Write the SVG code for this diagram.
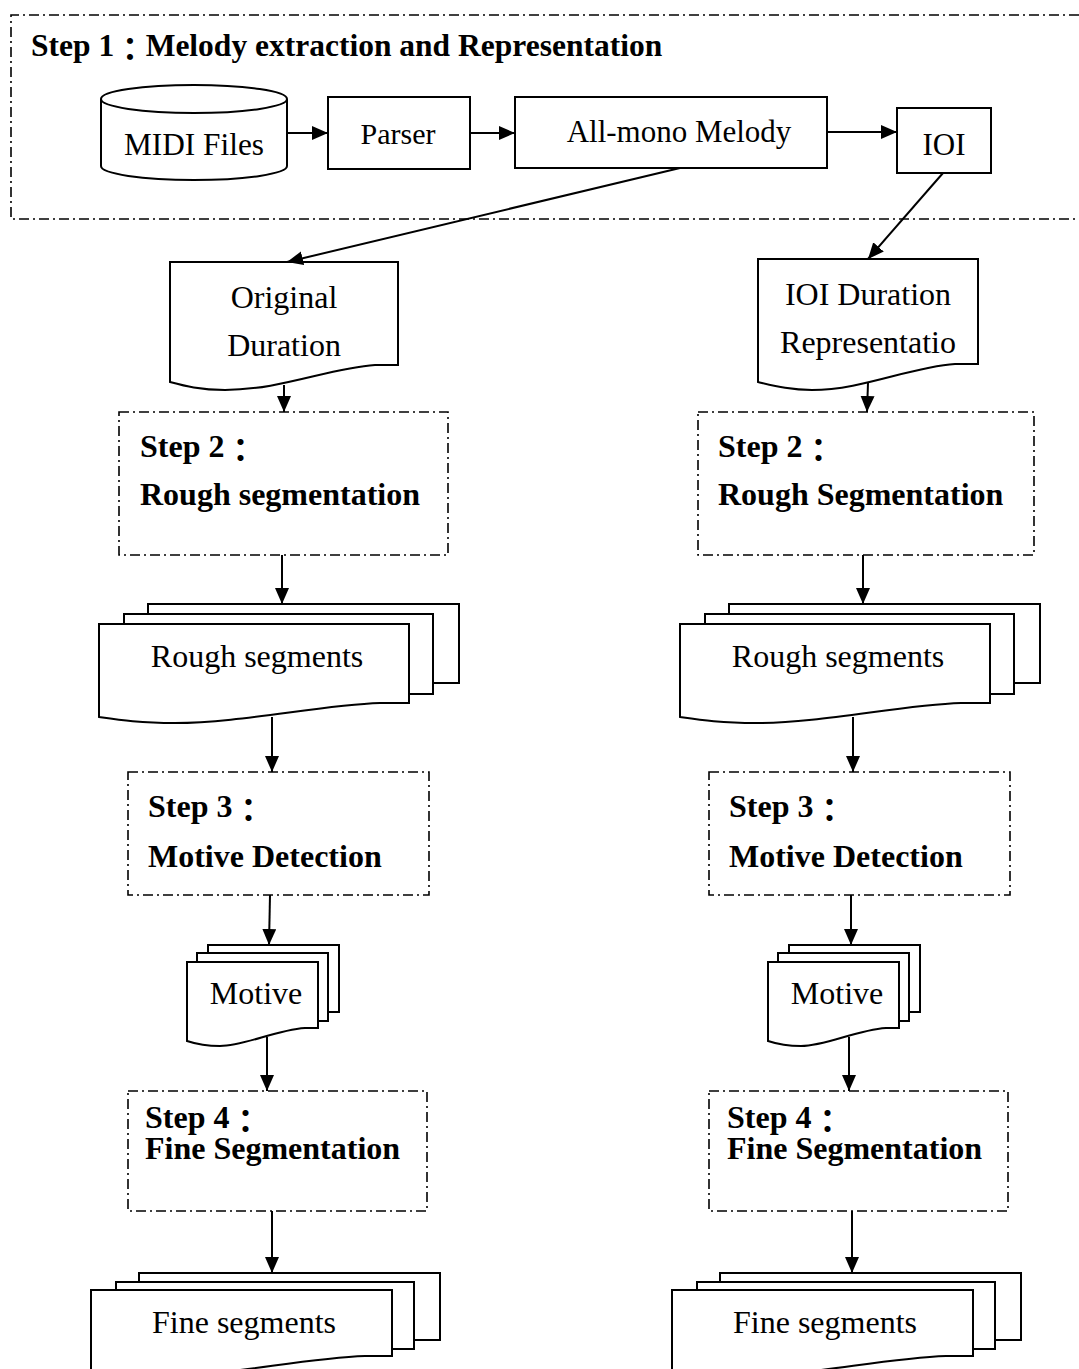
<svg xmlns="http://www.w3.org/2000/svg" width="1079" height="1369" viewBox="0 0 1079 1369">
<style>
  .sh{fill:#fff;stroke:#000;stroke-width:2}
  .dd{fill:none;stroke:#000;stroke-width:1.6;stroke-dasharray:10 4 2 4}
  .cn{fill:none;stroke:#000;stroke-width:2}
  .t{font-family:"Liberation Serif","Noto Sans CJK TC",serif;font-size:32px;fill:#000}
  .b{font-family:"Liberation Serif","Noto Sans CJK TC",serif;font-size:32px;font-weight:bold;fill:#000}
  .m{text-anchor:middle}
</style>
<defs>
  <marker id="ah" markerUnits="userSpaceOnUse" markerWidth="17" markerHeight="15" refX="16" refY="7" orient="auto">
    <path d="M0,0 L16,7 L0,14 Z" fill="#000"/>
  </marker>
</defs>
<rect width="1079" height="1369" fill="#fff"/>

<g id="step1">
  <path class="dd" d="M1079,15 H11 V219 H1079"/>
  <text class="b" x="31" y="56" style="font-size:31.5px">Step 1<tspan dy="5">：</tspan><tspan dy="-5">Melody extraction and Representation</tspan></text>
</g>

<g id="midi">
  <path class="sh" d="M101,99 V166 A93,14 0 0 0 287,166 V99"/>
  <ellipse class="sh" cx="194" cy="99" rx="93" ry="14"/>
  <text class="t m" x="194" y="155" style="font-size:31.3px">MIDI Files</text>
</g>
<g id="parser">
  <rect class="sh" x="328" y="97" width="142" height="72"/>
  <text class="t m" x="398" y="144" style="font-size:30px">Parser</text>
</g>
<g id="allmono">
  <rect class="sh" x="515" y="97" width="312" height="71"/>
  <text class="t m" x="679" y="142" style="font-size:31px">All-mono Melody</text>
</g>
<g id="ioi">
  <rect class="sh" x="897" y="108" width="94" height="65"/>
  <text class="t m" x="944" y="155" style="font-size:31px">IOI</text>
</g>

<g id="origdur">
  <path class="sh" d="M170,262 H398 V365 H375 C330,368 280,390 225,390 C200,390 185,386 170,382 Z"/>
  <text class="t m" x="284" y="308">Original</text>
  <text class="t m" x="284" y="356">Duration</text>
</g>
<g id="ioidur">
  <path class="sh" d="M758,259 H978 V364 H955 C910,367 862,390 812,390 C790,390 775,386 758,382 Z"/>
  <text class="t m" x="868" y="305">IOI Duration</text>
  <text class="t m" x="868" y="353">Representatio</text>
</g>

<g id="step2l">
  <rect class="dd" x="119" y="412" width="329" height="143"/>
  <text class="b" x="140" y="457">Step 2<tspan dy="5">：</tspan></text>
  <text class="b" x="140" y="505">Rough segmentation</text>
</g>
<g id="step2r">
  <rect class="dd" x="698" y="412" width="336" height="143"/>
  <text class="b" x="718" y="457">Step 2<tspan dy="5">：</tspan></text>
  <text class="b" x="718" y="505">Rough Segmentation</text>
</g>

<g id="roughl">
  <rect class="sh" x="148" y="604" width="311" height="79"/>
  <rect class="sh" x="124" y="614" width="309" height="80"/>
  <path class="sh" d="M99,624 H409 V703 H380 C320,705 240,723 175,723 C140,723 120,720 99,717 Z"/>
  <text class="t m" x="257" y="667">Rough segments</text>
</g>
<g id="roughr" transform="translate(581,0)">
  <rect class="sh" x="148" y="604" width="311" height="79"/>
  <rect class="sh" x="124" y="614" width="309" height="80"/>
  <path class="sh" d="M99,624 H409 V703 H380 C320,705 240,723 175,723 C140,723 120,720 99,717 Z"/>
  <text class="t m" x="257" y="667">Rough segments</text>
</g>

<g id="step3l">
  <rect class="dd" x="128" y="772" width="301" height="123"/>
  <text class="b" x="148" y="817">Step 3<tspan dy="5">：</tspan></text>
  <text class="b" x="148" y="867">Motive Detection</text>
</g>
<g id="step3r">
  <rect class="dd" x="709" y="772" width="301" height="123"/>
  <text class="b" x="729" y="817">Step 3<tspan dy="5">：</tspan></text>
  <text class="b" x="729" y="867">Motive Detection</text>
</g>

<g id="motivel">
  <rect class="sh" x="208" y="945" width="131" height="67"/>
  <rect class="sh" x="197" y="953" width="131" height="68"/>
  <path class="sh" d="M187,962 H318 V1028 H305 C275,1030 245,1046 220,1046 C205,1046 196,1044 187,1041 Z"/>
  <text class="t m" x="256" y="1004">Motive</text>
</g>
<g id="motiver" transform="translate(581,0)">
  <rect class="sh" x="208" y="945" width="131" height="67"/>
  <rect class="sh" x="197" y="953" width="131" height="68"/>
  <path class="sh" d="M187,962 H318 V1028 H305 C275,1030 245,1046 220,1046 C205,1046 196,1044 187,1041 Z"/>
  <text class="t m" x="256" y="1004">Motive</text>
</g>

<g id="step4l">
  <rect class="dd" x="128" y="1091" width="299" height="120"/>
  <text class="b" x="145" y="1128">Step 4<tspan dy="5">：</tspan></text>
  <text class="b" x="145" y="1159">Fine Segmentation</text>
</g>
<g id="step4r">
  <rect class="dd" x="709" y="1091" width="299" height="120"/>
  <text class="b" x="727" y="1128">Step 4<tspan dy="5">：</tspan></text>
  <text class="b" x="727" y="1159">Fine Segmentation</text>
</g>

<g id="finel">
  <rect class="sh" x="139" y="1273" width="301" height="67"/>
  <rect class="sh" x="116" y="1282" width="298" height="67"/>
  <path class="sh" d="M91,1290 H392 V1356 H365 C305,1358 225,1376 165,1376 C130,1376 110,1373 91,1370 Z"/>
  <text class="t m" x="244" y="1333">Fine segments</text>
</g>
<g id="finer" transform="translate(581,0)">
  <rect class="sh" x="139" y="1273" width="301" height="67"/>
  <rect class="sh" x="116" y="1282" width="298" height="67"/>
  <path class="sh" d="M91,1290 H392 V1356 H365 C305,1358 225,1376 165,1376 C130,1376 110,1373 91,1370 Z"/>
  <text class="t m" x="244" y="1333">Fine segments</text>
</g>

<g id="connectors">
  <line class="cn" x1="287" y1="133" x2="328" y2="133" marker-end="url(#ah)"/>
  <line class="cn" x1="470" y1="133" x2="515" y2="133" marker-end="url(#ah)"/>
  <line class="cn" x1="827" y1="132" x2="897" y2="132" marker-end="url(#ah)"/>
  <line class="cn" x1="680" y1="168" x2="287" y2="262" marker-end="url(#ah)"/>
  <line class="cn" x1="943" y1="173" x2="868" y2="259" marker-end="url(#ah)"/>
  <line class="cn" x1="284" y1="385" x2="284" y2="412" marker-end="url(#ah)"/>
  <line class="cn" x1="868" y1="383" x2="867" y2="412" marker-end="url(#ah)"/>
  <line class="cn" x1="282" y1="555" x2="282" y2="604" marker-end="url(#ah)"/>
  <line class="cn" x1="863" y1="555" x2="863" y2="604" marker-end="url(#ah)"/>
  <line class="cn" x1="272" y1="717" x2="272" y2="772" marker-end="url(#ah)"/>
  <line class="cn" x1="853" y1="717" x2="853" y2="772" marker-end="url(#ah)"/>
  <line class="cn" x1="270" y1="895" x2="269" y2="945" marker-end="url(#ah)"/>
  <line class="cn" x1="851" y1="895" x2="851" y2="945" marker-end="url(#ah)"/>
  <line class="cn" x1="267" y1="1037" x2="267" y2="1091" marker-end="url(#ah)"/>
  <line class="cn" x1="849" y1="1037" x2="849" y2="1091" marker-end="url(#ah)"/>
  <line class="cn" x1="272" y1="1211" x2="272" y2="1273" marker-end="url(#ah)"/>
  <line class="cn" x1="852" y1="1211" x2="852" y2="1273" marker-end="url(#ah)"/>
</g>
</svg>
